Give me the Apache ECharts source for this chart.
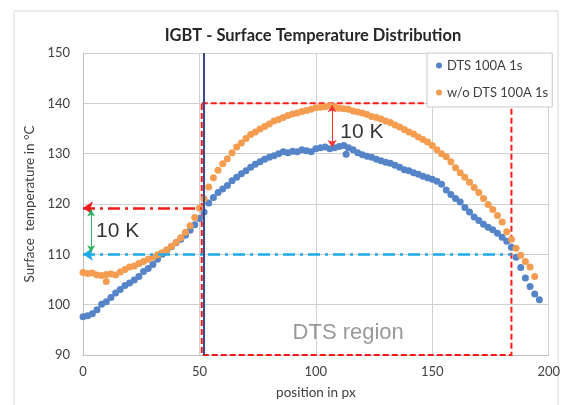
<!DOCTYPE html>
<html>
<head>
<meta charset="utf-8">
<script src="https://cdn.jsdelivr.net/npm/echarts@6/dist/echarts.min.js"></script>
<style>
html,body{margin:0;padding:0;background:#fff;}
#chart{width:563px;height:405px;}
</style>
</head>
<body>
<div id="chart"></div>
<script>
// positions along the IGBT (px)
var positions = [0,2,4,6,8,10,12,14,16,18,20,22,24,26,28,30,32,34,36,38,40,42,44,46,48,50,52,54,56,58,60,62,64,66,68,70,72,74,76,78,80,82,84,86,88,90,92,94,96,98,100,102,104,106,108,110,112,114,116,118,120,122,124,126,128,130,132,134,136,138,140,142,144,146,148,150,152,154,156,158,160,162,164,166,168,170,172,174,176,178,180,182,184,186,188,190,192,194,196];

// DTS 100A 1s
var tempDts = [97.6,97.8,98.2,99.0,100.1,100.6,101.4,102.3,103.0,103.8,
	104.3,104.9,105.6,106.6,107.2,108.0,109.0,110.0,110.8,111.5,
	112.3,113.0,113.8,114.8,115.9,117.1,118.4,120.2,121.3,122.3,
	123.0,123.7,124.6,125.3,126.0,126.6,127.3,127.9,128.4,128.9,
	129.3,129.6,130.0,130.4,130.2,130.5,130.4,130.8,130.6,130.4,
	131.0,131.2,131.3,131.0,131.2,131.4,131.6,131.2,130.8,130.2,
	129.8,129.5,129.3,128.9,128.6,128.3,128.1,127.7,127.3,126.8,
	126.6,126.2,125.9,125.5,125.2,124.9,124.5,123.9,122.8,121.9,
	121.1,120.4,119.3,118.4,117.4,116.7,116.0,115.4,114.9,114.2,
	113.4,112.6,111.4,109.4,107.4,105.3,103.6,102.1,101.0];
var dtsExtra = [[113,129.9]];

// w/o DTS 100A 1s
var tempNoDts = [106.4,106.2,106.3,105.9,105.8,106.0,106.1,105.9,106.5,107.0,
	107.5,107.7,108.2,108.6,109.0,109.4,109.9,110.3,110.9,111.6,
	112.4,113.3,114.4,115.7,117.3,119.2,121.0,123.4,125.2,126.7,
	128.0,129.0,130.2,131.3,132.1,133.0,133.8,134.3,134.9,135.4,
	135.9,136.5,136.8,137.2,137.6,137.9,138.1,138.4,138.6,138.8,
	139.1,139.2,139.3,139.5,139.3,139.0,138.9,138.8,138.5,138.3,
	138.1,137.8,137.4,137.2,136.9,136.5,136.2,135.7,135.3,134.8,
	134.3,133.9,133.3,132.8,132.3,131.6,130.8,130.0,129.4,128.4,
	127.2,126.2,125.3,124.3,123.3,122.3,121.1,119.9,118.9,117.7,
	116.4,114.5,113.0,111.2,109.8,108.6,107.5,105.6];
var noDtsExtra = [[10,104.6]];

// annotations (data coordinates)
var dtsRegion = [51, 184, 90, 140];   // x from, x to, y from, y to
var dtsEdge = 52;                      // vertical marker line
var levelHigh = 119.2, levelLow = 110;
var noteX = [5.6, 110.5, 90];
var noteY = [114.6, 134.2, 94.3];
var noteText = ['10 K', '10 K', 'DTS region'];

var xTicks = [0, 50, 100, 150, 200];
var yTicks = [90, 100, 110, 120, 130, 140, 150];

function pairs(xs, ys, extra){
	var out = [];
	for(var i=0;i<ys.length;i++){
		out.push([xs[i], ys[i]]);
	}
	return out.concat(extra);
}

var notes = [];
for(var i=0;i<noteText.length;i++){
	notes.push({
		value:[noteX[i], noteY[i]],
		label:{
			formatter: noteText[i],
			fontSize: i==2 ? 22 : 21,
			color: i==2 ? '#7f7f7f' : '#000'
		}
	});
}

var font = 'Lato, "Open Sans", sans-serif';
var charts = echarts.init(document.getElementById('chart'));
var option = {
	animation:false,
	graphic:[{
		type:'rect',
		shape:{x:14,y:11,width:544,height:400},
		style:{fill:'none',stroke:'#d9d9d9',lineWidth:1},
		z:-1
	}],
	title:{
		text:'IGBT - Surface Temperature Distribution',
		left:308,
		top:22,
		textAlign:'center',
		textStyle:{fontFamily:font,fontSize:16.5,fontWeight:'bold',color:'#262626'}
	},
	legend:{
		data:['DTS 100A 1s','w/o DTS 100A 1s'],
		orient:'vertical',
		left:427,
		top:53,
		icon:'circle',
		itemWidth:6,
		itemHeight:6,
		itemGap:14,
		padding:[6,4,8,9],
		borderColor:'#c8c8c8',
		borderWidth:1,
		backgroundColor:'#fff',
		textStyle:{fontFamily:font,fontSize:13,color:'#404040'}
	},
	grid:{
		left:83,
		right:13,
		top:53,
		bottom:48
	},
	xAxis:{
		type:'value',
		min:xTicks[0],
		max:xTicks[xTicks.length-1],
		interval:50,
		name:'position in px',
		nameLocation:'middle',
		nameGap:31,
		nameTextStyle:{fontFamily:font,fontSize:13.5,color:'#404040'},
		axisLine:{show:true,lineStyle:{color:'#bfbfbf'}},
		axisTick:{show:false},
		axisLabel:{fontFamily:font,fontSize:13,color:'#404040',margin:10},
		splitLine:{show:true,lineStyle:{color:'#d0d0d0'}}
	},
	yAxis:{
		type:'value',
		min:yTicks[0],
		max:yTicks[yTicks.length-1],
		interval:10,
		name:'Surface  temperature in \u00b0C',
		nameLocation:'middle',
		nameGap:42,
		nameTextStyle:{fontFamily:font,fontSize:13.5,color:'#404040'},
		axisLine:{show:true,lineStyle:{color:'#bfbfbf'}},
		axisTick:{show:false},
		axisLabel:{fontFamily:font,fontSize:13,color:'#404040',margin:13},
		splitLine:{show:true,lineStyle:{color:'#d0d0d0'}}
	},
	series:[{
		name:'DTS 100A 1s',
		type:'scatter',
		symbolSize:7,
		itemStyle:{color:'#5585c8',opacity:1},
		data:pairs(positions, tempDts, dtsExtra)
	},{
		name:'w/o DTS 100A 1s',
		type:'scatter',
		symbolSize:7,
		itemStyle:{color:'#f49d50',opacity:1},
		data:pairs(positions, tempNoDts, noDtsExtra)
	},{
		name:'notes',
		type:'scatter',
		symbolSize:0,
		silent:true,
		z:5,
		label:{
			show:true,
			position:'right',
			distance:0,
			fontFamily:'"Liberation Sans", Arial, sans-serif'
		},
		data:notes,
		markArea:{
			silent:true,
			itemStyle:{color:'rgba(0,0,0,0)',borderColor:'#ff1a1a',borderWidth:2,borderType:[6,3]},
			label:{show:false},
			data:[[{coord:[dtsRegion[0],dtsRegion[3]]},{coord:[dtsRegion[1],dtsRegion[2]]}]]
		},
		markLine:{
			silent:true,
			animation:false,
			label:{show:false},
			symbol:'none',
			data:[
				[{coord:[dtsEdge,yTicks[0]],symbol:'none',lineStyle:{color:'#3b4a8f',width:2,type:'solid'}},
				 {coord:[dtsEdge,yTicks[yTicks.length-1]],symbol:'none'}],
				[{coord:[0,levelHigh],symbol:'arrow',symbolSize:[10,10],lineStyle:{color:'#ee1c1c',width:2.5,type:[12,5,3,5]}},
				 {coord:[dtsRegion[0],levelHigh],symbol:'none'}],
				[{coord:[0,levelLow],symbol:'arrow',symbolSize:[10,10],lineStyle:{color:'#1eaae6',width:2.5,type:[12,5,3,5]}},
				 {coord:[dtsRegion[1],levelLow],symbol:'none'}],
				[{coord:[3.5,levelHigh-0.3],symbol:'arrow',symbolSize:[6,7],lineStyle:{color:'#2db35d',width:1,type:'solid'}},
				 {coord:[3.5,levelLow+0.4],symbol:'arrow',symbolSize:[6,7]}],
				[{coord:[107,139.6],symbol:'arrow',symbolSize:[7,7],lineStyle:{color:'#ff3030',width:1,type:'solid'}},
				 {coord:[107,131.3],symbol:'arrow',symbolSize:[7,7]}]
			]
		}
	}]
};
charts.setOption(option);
</script>
</body>
</html>
